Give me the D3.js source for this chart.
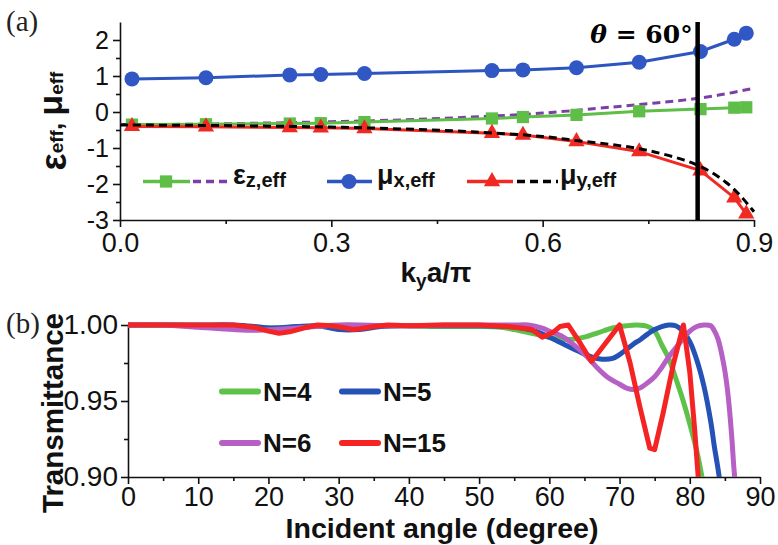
<!DOCTYPE html>
<html><head><meta charset="utf-8">
<script src="https://cdn.jsdelivr.net/npm/d3@7"></script>
<style>body{margin:0;background:#fff} svg{display:block}</style>
</head><body><svg id="c" width="778" height="545"></svg>
<script>
// ---------- Panel (a) data ----------
const kya   = [0.017,0.122,0.241,0.285,0.347,0.528,0.572,0.648,0.737,0.824,0.872,0.889];
const muX   = [0.92,0.95,1.03,1.04,1.07,1.15,1.17,1.23,1.38,1.68,2.02,2.19];
const epsZ  = [-0.35,-0.34,-0.32,-0.31,-0.28,-0.18,-0.14,-0.08,0.02,0.08,0.12,0.13];
const muY   = [-0.40,-0.41,-0.43,-0.44,-0.46,-0.59,-0.64,-0.82,-1.10,-1.63,-2.38,-2.83];
const epsZTheoryX = [0,0.1,0.2,0.3,0.4,0.5,0.6,0.7,0.75,0.8,0.85,0.9];
const epsZTheory  = [-0.35,-0.34,-0.31,-0.27,-0.22,-0.14,-0.03,0.14,0.23,0.33,0.47,0.66];
const muYTheoryX  = [0,0.1,0.2,0.3,0.4,0.5,0.6,0.65,0.7,0.75,0.8,0.82,0.84,0.86,0.875,0.885,0.894,0.9];
const muYTheory   = [-0.36,-0.37,-0.39,-0.42,-0.47,-0.55,-0.68,-0.80,-0.91,-1.07,-1.33,-1.48,-1.68,-1.95,-2.21,-2.42,-2.63,-2.77];
const thetaLineX = 0.82;
const xTicksA = [0,0.3,0.6,0.9];
const yTicksA = [-3,-2,-1,0,1,2];

// ---------- Panel (b) data ----------
const angN4  = [0,5,10,15,20,25,30,35,40,45,50,53,55,57,59,61,63,65,67,69,71,72.5,74,75,76,77,78,79,80,81,81.5,82];
const tN4    = [1,1,0.9995,0.9985,0.998,0.999,0.9995,0.9995,0.9995,0.999,0.999,0.9985,0.997,0.995,0.993,0.991,0.9905,0.992,0.995,0.998,0.9995,1.0,0.999,0.996,0.987,0.978,0.965,0.951,0.935,0.917,0.906,0.893];
const angN5  = [0,10,15,18,21,24,27,30,33,36,40,45,50,54,56,58,60,62,64,66,67.5,69,70,71,72,73,74,75,76,77,78,79,80,81,82,83,83.5,84,84.5];
const tN5    = [1,1,1,0.999,0.998,0.999,0.9995,0.997,0.997,0.999,0.9995,0.9995,0.9995,0.999,0.998,0.996,0.992,0.9875,0.983,0.979,0.9775,0.978,0.9805,0.984,0.9875,0.9905,0.994,0.997,0.999,1.0,0.9995,0.996,0.989,0.977,0.96,0.936,0.92,0.906,0.89];
const angN6  = [0,5,10,15,18,21,24,27,30,33,36,40,45,50,55,57,59,60,62,64,65.3,67,68.2,70,71,72,72.9,74,75,75.8,77,78.6,80,81,82,83,83.4,84,84.8,85.3,85.7,86,86.3,86.6];
const tN6    = [1,1,0.9985,0.997,0.9965,0.997,0.998,0.999,1.0,1.0,0.9995,0.9995,1.0,1.0,1.0,1.0,0.998,0.996,0.992,0.985,0.9795,0.971,0.966,0.961,0.9585,0.9575,0.9585,0.962,0.966,0.9707,0.979,0.9883,0.996,0.999,1.0,0.9995,0.997,0.991,0.975,0.96,0.942,0.925,0.905,0.89];
const angN15 = [0,5,10,15,18,20,21.5,23,25,27,29,31,32,33,35,37,40,45,50,52,54,56,57.5,59,60.5,61.5,62.7,64.4,66,70,71.5,72.9,74.3,75,76.2,77.7,79.1,80,80.7,81.2,81.5];
const tN15   = [1,1,1,1,0.9985,0.996,0.9945,0.9955,0.998,1.0,0.9995,0.998,0.997,0.9975,0.999,1.0,0.9995,1.0,1.0,0.9995,0.999,0.998,0.997,0.992,0.995,0.999,1.0,0.988,0.976,1.0,0.975,0.946,0.919,0.918,0.942,0.975,1.0,0.969,0.931,0.90,0.885];
const seriesB = [
  {name:"N=4", ang:angN4, t:tN4, color:"#5ec24a", smooth:true},
  {name:"N=5", ang:angN5, t:tN5, color:"#2452b5", smooth:true},
  {name:"N=6", ang:angN6, t:tN6, color:"#b65fc4", smooth:true},
  {name:"N=15",ang:angN15,t:tN15,color:"#f42424", smooth:false}
];
const xTicksB = [0,10,20,30,40,50,60,70,80,90];
const yTicksB = [0.90,0.95,1.00];

const svg = d3.select("#c");
const FS = "Liberation Sans, Arial, Helvetica, sans-serif";
const SERIF = "Liberation Serif, Times New Roman, serif";

// ======== Panel (a) ========
const xA = d3.scaleLinear().domain([0,0.9]).range([120,754]);
const yA = d3.scaleLinear().domain([-3,2.5]).range([220,22]);

const gA = svg.append("g");
const axXA = gA.append("g").attr("transform","translate(0,220)")
  .call(d3.axisBottom(xA).tickValues(xTicksA).tickFormat(d3.format(".1f")).tickSize(7).tickSizeOuter(0).tickPadding(6));
gA.append("g").attr("transform","translate(0,220)")
  .call(d3.axisBottom(xA).tickValues([0.15,0.45,0.75]).tickFormat("").tickSize(4).tickSizeOuter(0))
  .select(".domain").remove();
const axYA = gA.append("g").attr("transform","translate(120,0)")
  .call(d3.axisLeft(yA).tickValues(yTicksA).tickFormat(d3.format("d")).tickSize(7).tickSizeOuter(0).tickPadding(4));
gA.append("g").attr("transform","translate(120,0)")
  .call(d3.axisLeft(yA).tickValues([-2.5,-1.5,-0.5,0.5,1.5]).tickFormat("").tickSize(4).tickSizeOuter(0))
  .select(".domain").remove();
gA.selectAll(".domain, .tick line").attr("stroke","#111").attr("stroke-width",1.6);
axXA.selectAll("text").attr("font-family",FS).attr("font-size",27).attr("fill","#111");
axYA.selectAll("text").attr("font-family",FS).attr("font-size",25).attr("fill","#111")
  .text(d => d<0 ? "-"+Math.abs(d) : d);

const lineA = d3.line().x(d=>xA(d[0])).y(d=>yA(d[1]));
const smoothA = d3.line().x(d=>xA(d[0])).y(d=>yA(d[1])).curve(d3.curveCatmullRom.alpha(0.5));

gA.append("path").datum(epsZTheoryX.map((x,i)=>[x,epsZTheory[i]]))
  .attr("d",smoothA).attr("fill","none").attr("stroke","#7d3fa6").attr("stroke-width",3).attr("stroke-dasharray","8,5");
gA.append("path").datum(kya.map((x,i)=>[x,epsZ[i]]))
  .attr("d",lineA).attr("fill","none").attr("stroke","#5ebe48").attr("stroke-width",3);
gA.selectAll(".sq").data(kya.map((x,i)=>[x,epsZ[i]])).join("path")
  .attr("transform",d=>`translate(${xA(d[0])},${yA(d[1])})`)
  .attr("d",d3.symbol(d3.symbolSquare,150)).attr("fill","#5ebe48");
gA.append("path").datum(kya.map((x,i)=>[x,muX[i]]))
  .attr("d",lineA).attr("fill","none").attr("stroke","#2d55c0").attr("stroke-width",3);
gA.selectAll(".ci").data(kya.map((x,i)=>[x,muX[i]])).join("circle")
  .attr("cx",d=>xA(d[0])).attr("cy",d=>yA(d[1])).attr("r",7.5).attr("fill","#3157c4");
gA.append("path").datum(kya.map((x,i)=>[x,muY[i]]))
  .attr("d",lineA).attr("fill","none").attr("stroke","#f02a22").attr("stroke-width",3);
gA.selectAll(".tr").data(kya.map((x,i)=>[x,muY[i]])).join("path")
  .attr("transform",d=>`translate(${xA(d[0])},${yA(d[1])})`)
  .attr("d",d3.symbol(d3.symbolTriangle,115)).attr("fill","#f02a22");
gA.append("path").datum(muYTheoryX.map((x,i)=>[x,muYTheory[i]]))
  .attr("d",smoothA).attr("fill","none").attr("stroke","#000").attr("stroke-width",3).attr("stroke-dasharray","8,5");

gA.append("line").attr("x1",xA(thetaLineX)).attr("x2",xA(thetaLineX)).attr("y1",yA(2.5)).attr("y2",yA(-3))
  .attr("stroke","#000").attr("stroke-width",4.5);
const th = gA.append("text").attr("x",xA(thetaLineX)-5).attr("y",43).attr("text-anchor","end")
  .attr("font-family","DejaVu Serif, serif").attr("font-weight","bold").attr("font-size",25).attr("fill","#000");
th.append("tspan").attr("font-style","italic").text("θ");
th.append("tspan").text(" = 60°");

const lgY = 181.5;
function legLine(g,x1,x2,color,dash){
  g.append("line").attr("x1",x1).attr("x2",x2).attr("y1",lgY).attr("y2",lgY)
   .attr("stroke",color).attr("stroke-width",3.5).attr("stroke-dasharray",dash||null);
}
legLine(gA,143,190,"#5ebe48");
gA.append("path").attr("transform",`translate(166,${lgY})`).attr("d",d3.symbol(d3.symbolSquare,150)).attr("fill","#5ebe48");
legLine(gA,193,232,"#7d3fa6","8,5");
legLine(gA,327,372,"#2d55c0");
gA.append("circle").attr("cx",349).attr("cy",lgY).attr("r",7.5).attr("fill","#3157c4");
legLine(gA,467,513,"#f02a22");
gA.append("path").attr("transform",`translate(492,${lgY})`).attr("d",d3.symbol(d3.symbolTriangle,115)).attr("fill","#f02a22");
legLine(gA,517,558,"#000","8,5");
function greekSub(g,x,y,greek,sub,gs,ss){
  const t = g.append("text").attr("x",x).attr("y",y).attr("font-family",FS).attr("font-weight","bold").attr("fill","#111");
  t.append("tspan").attr("font-size",gs).text(greek);
  t.append("tspan").attr("font-size",ss).attr("dy",3).text(sub);
  return t;
}
greekSub(gA,233,184,"ε","z,eff",27,20);
greekSub(gA,377,184,"μ","x,eff",27,20);
greekSub(gA,560,184,"μ","y,eff",27,20);

const ylab = gA.append("text").attr("transform","translate(62,121) rotate(-90)").attr("text-anchor","middle")
  .attr("font-family",FS).attr("font-weight","bold").attr("fill","#111");
ylab.append("tspan").attr("font-size",36).attr("dy",4).text("ε");
ylab.append("tspan").attr("font-size",19).attr("dy",-3).text("eff");
ylab.append("tspan").attr("font-size",26).attr("dy",-1).text(", ");
ylab.append("tspan").attr("font-size",34).text("μ");
ylab.append("tspan").attr("font-size",19).attr("dy",1).text("eff");

const xlab = gA.append("text").attr("x",436).attr("y",282).attr("text-anchor","middle")
  .attr("font-family",FS).attr("font-weight","bold").attr("font-size",28).attr("fill","#111");
xlab.append("tspan").text("k");
xlab.append("tspan").attr("font-size",19).attr("dy",5).text("y");
xlab.append("tspan").attr("dy",-5).text("a/π");

svg.append("text").attr("x",6).attr("y",31).attr("font-family",SERIF).attr("font-size",29).attr("fill","#222").text("(a)");

// ======== Panel (b) ========
const xB = d3.scaleLinear().domain([0,90]).range([128,760]);
const yB = d3.scaleLinear().domain([0.90,1.00]).range([477,325]);
const gB = svg.append("g");
svg.append("defs").append("clipPath").attr("id","clipB").append("rect")
  .attr("x",128).attr("y",300).attr("width",640).attr("height",177);

const axXB = gB.append("g").attr("transform","translate(0,477)")
  .call(d3.axisBottom(xB).tickValues(xTicksB).tickFormat(d3.format("d")).tickSize(7).tickSizeOuter(0).tickPadding(3));
gB.append("g").attr("transform","translate(0,477)")
  .call(d3.axisBottom(xB).tickValues([5,15,25,35,45,55,65,75,85]).tickFormat("").tickSize(4).tickSizeOuter(0))
  .select(".domain").remove();
const axYB = gB.append("g").attr("transform","translate(128,0)")
  .call(d3.axisLeft(yB).tickValues(yTicksB).tickFormat(d3.format(".2f")).tickSize(7).tickSizeOuter(0).tickPadding(3));
gB.append("g").attr("transform","translate(128,0)")
  .call(d3.axisLeft(yB).tickValues([0.925,0.975]).tickFormat("").tickSize(4).tickSizeOuter(0))
  .select(".domain").remove();
gB.selectAll(".domain, .tick line").attr("stroke","#111").attr("stroke-width",1.6);
axXB.selectAll("text").attr("font-family",FS).attr("font-size",27).attr("fill","#111");
axYB.selectAll("text").attr("font-family",FS).attr("font-size",28).attr("fill","#111");

const gLines = gB.append("g").attr("clip-path","url(#clipB)");
seriesB.forEach(s=>{
  const ln = d3.line().x(d=>xB(d[0])).y(d=>yB(d[1]))
    .curve(s.smooth ? d3.curveCatmullRom.alpha(0.5) : d3.curveLinear);
  gLines.append("path").datum(s.ang.map((a,i)=>[a,s.t[i]]))
    .attr("d",ln).attr("fill","none").attr("stroke",s.color).attr("stroke-width",5)
    .attr("stroke-linejoin","round");
});

const legB = [[222,391.5,0],[342,391.5,1],[222,443,2],[342,443,3]];
legB.forEach(([x,y,i])=>{
  gB.append("line").attr("x1",x).attr("x2",x+36).attr("y1",y).attr("y2",y)
    .attr("stroke",seriesB[i].color).attr("stroke-width",6).attr("stroke-linecap","round");
  gB.append("text").attr("x",x+41).attr("y",y+9).attr("font-family",FS).attr("font-weight","bold")
    .attr("font-size",26).attr("fill","#111").text(seriesB[i].name);
});

gB.append("text").attr("transform","translate(63,413) rotate(-90)").attr("text-anchor","middle")
  .attr("font-family",FS).attr("font-weight","bold").attr("font-size",30).attr("fill","#111")
  .attr("textLength",200).attr("lengthAdjust","spacingAndGlyphs").text("Transmittance");
gB.append("text").attr("x",442).attr("y",538).attr("text-anchor","middle")
  .attr("font-family",FS).attr("font-weight","bold").attr("font-size",27).attr("fill","#111")
  .attr("textLength",313).attr("lengthAdjust","spacingAndGlyphs").text("Incident angle (degree)");
svg.append("text").attr("x",6).attr("y",333).attr("font-family",SERIF).attr("font-size",29).attr("fill","#222").text("(b)");
</script></body></html>
